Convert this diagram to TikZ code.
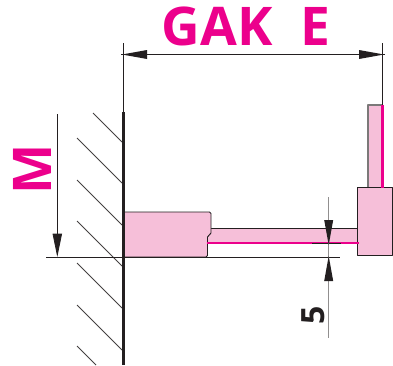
\documentclass[tikz,border=0pt]{standalone}
\usepackage{fontspec}
\setmainfont{Open Sans}
\usetikzlibrary{arrows.meta}
\definecolor{pinkfill}{HTML}{F6BFD9}
\definecolor{magentaline}{HTML}{EC008C}
\definecolor{ink}{HTML}{231F20}
\tikzset{
  dimline/.style={draw=ink,line width=0.6pt},
  grayline/.style={draw=ink!50,line width=0.8pt},
  hatchline/.style={draw=ink!85,line width=0.6pt},
  outline/.style={draw=ink,line width=0.7pt,fill=pinkfill,line join=round},
  softoutline/.style={draw=ink!60,line width=0.8pt,fill=pinkfill,line join=round},
  accent/.style={draw=magentaline,line width=1.9pt},
  tip/.style={-{Triangle[length=17.5pt,width=7pt]}},
  bigtext/.style={text=magentaline,font=\fontsize{40}{40}\selectfont\bfseries,inner sep=0pt},
  smalltext/.style={text=ink,font=\fontsize{24}{24}\selectfont\bfseries,inner sep=0pt}
}
\begin{document}
\begin{tikzpicture}[x=0.75pt,y=-0.75pt]
\useasboundingbox (0,0) rectangle (393,365);
% hatching
\foreach \xa/\ya/\xb/\yb in {93/113/122/142,77/138/122/183,77/180/122/225,77/221/122/266,77/263/122/308,77/305/122/350,77/346/96/365}
  \draw[hatchline] (\xa,\ya) -- (\xb,\yb);
% pink parts
\draw[softoutline] (368,187) -- (368,105) -- (382.5,105) -- (382.5,187);
\draw[outline] (207,228) -- (357,228) -- (357,243) -- (207,243) -- cycle;
\draw[outline] (392.5,187) -- (357,187) -- (357,255) -- (392.5,255) -- cycle;
\draw[outline] (124,212) -- (209.5,212) -- (211,213.5) -- (211,233) -- (207.5,237) -- (207.5,255.5) -- (206,257) -- (124,257) -- cycle;
% magenta lines
\draw[accent] (382.5,105) -- (382.5,188);
\draw[accent] (206.5,243) -- (359,243);
% wall
\draw[draw=ink,line width=2.2pt] (123.5,112) -- (123.5,365);
% datum lines
\draw[dimline] (46,257.5) -- (340,257.5);
\draw[dimline] (312,243) -- (341,243);
% extension lines
\coordinate (extLeftTop) at (123.3,43);
\coordinate (extLeftEnd) at (123.3,113);
\coordinate (extRightTop) at (382.7,43);
\coordinate (extRightEnd) at (382.7,105);
\draw[dimline] (extLeftTop) -- (extLeftEnd);
\draw[dimline] (extRightTop) -- (extRightEnd);
% GAK E dimension
\coordinate (dimL) at (121,54.5);
\coordinate (dimR) at (385,54.5);
\draw[dimline] (dimL) -- (dimR);
\fill[ink] (122,54.5) -- (147,50) -- (147,59) -- cycle;
\fill[ink] (384,54.5) -- (359,50) -- (359,59) -- cycle;
% M dimension
\coordinate (mTop) at (57.3,114);
\coordinate (mEnd) at (57.3,257);
\draw[dimline,tip] (mTop) -- (mEnd);
% 5 dimension
\coordinate (fiveTop) at (328.7,197);
\coordinate (fiveBot) at (328.7,338);
\draw[grayline] (fiveTop) -- (fiveBot);
\fill[ink] (328.7,245) -- (324.2,220) -- (333.2,220) -- cycle;
\fill[ink] (328.7,256) -- (324.2,281) -- (333.2,281) -- cycle;
% texts
\node[bigtext,anchor=base west] (gak) at (161.5,45.5) {GAK};
\node[bigtext,anchor=base west] (e) at (300,45.5) {E};
\node[bigtext,rotate=90,anchor=base] (m) at (51,169.5) {M};
\node[smalltext,rotate=90,anchor=base] (five) at (324.5,315) {5};
\end{tikzpicture}
\end{document}
